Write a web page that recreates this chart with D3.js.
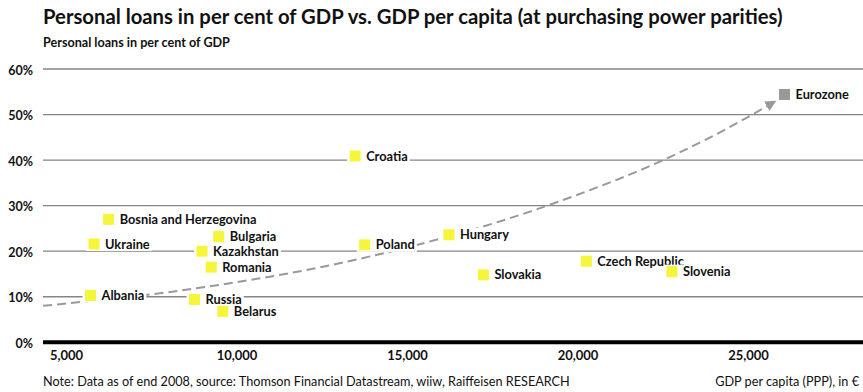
<!DOCTYPE html>
<html>
<head>
<meta charset="utf-8">
<script src="https://cdn.jsdelivr.net/npm/d3@7"></script>
<style>
  html, body { margin: 0; padding: 0; background: #fff; }
  svg { display: block; }
  text { font-family: Lato, "Open Sans", "Noto Sans", sans-serif; fill: #111; }
</style>
</head>
<body>
<svg id="chart" width="863" height="392"></svg>
<script>
// Personal loans (% of GDP) against GDP per capita at PPP, end 2008
const countries = ["Bosnia and Herzegovina", "Ukraine", "Bulgaria", "Kazakhstan", "Romania",
  "Albania", "Russia", "Belarus", "Croatia", "Poland", "Hungary", "Slovakia",
  "Czech Republic", "Slovenia", "Eurozone"];
const gdpPerCapita = [6250, 5820, 9480, 8990, 9260, 5720, 8770, 9600, 13480, 13760,
  16230, 17240, 20260, 22770, 26070];
const personalLoans = [27.0, 21.6, 23.2, 20.0, 16.5, 10.3, 9.4, 6.8, 40.9, 21.4,
  23.6, 14.8, 17.8, 15.5, 54.4];

// Dashed catch-up trend towards the eurozone level
const trendGdp = [4330, 6000, 8000, 10000, 12000, 14000, 16000, 18000, 20000, 22000, 24000, 25800];
const trendLoans = [8.0, 9.3, 11.0, 13.2, 15.8, 19.0, 22.8, 27.2, 32.4, 38.3, 45.4, 52.9];

const xTicks = [5000, 10000, 15000, 20000, 25000];
const yTicks = [0, 10, 20, 30, 40, 50, 60];

const titleText = "Personal loans in per cent of GDP vs. GDP per capita (at purchasing power parities)";
const yAxisTitle = "Personal loans in per cent of GDP";
const noteText = "Note: Data as of end 2008, source: Thomson Financial Datastream, wiiw, Raiffeisen RESEARCH";
const xAxisTitle = "GDP per capita (PPP), in \u20ac";

const W = 863, H = 392;
const plotLeft = 43, plotRight = 863;

const svg = d3.select("#chart");

const x = d3.scaleLinear().domain([5000, 25000]).range([66, 748]);
const y = d3.scaleLinear().domain([0, 60]).range([342.3, 69]);

// scale a text node's font size so its width matches a target
function fitWidth(sel, target) {
  const w = sel.node().getComputedTextLength();
  const fs = parseFloat(sel.attr("font-size"));
  sel.attr("font-size", (fs * target / w).toFixed(2));
}

// Title and axis title
const title = svg.append("text")
  .attr("x", plotLeft).attr("y", 24)
  .attr("font-size", 20).attr("font-weight", 700)
  .text(titleText);
fitWidth(title, 740);

const sub = svg.append("text")
  .attr("x", plotLeft).attr("y", 46.5)
  .attr("font-size", 11).attr("font-weight", 700)
  .text(yAxisTitle);
fitWidth(sub, 187);

// Horizontal grid lines
const grid = svg.append("g");
grid.selectAll("line")
  .data(yTicks.filter(d => d > 0))
  .join("line")
  .attr("x1", plotLeft).attr("x2", plotRight)
  .attr("y1", d => y(d)).attr("y2", d => y(d))
  .attr("stroke", "#858585").attr("stroke-width", 1.3);

// Y axis labels
const yAxis = d3.axisLeft(y).tickValues(yTicks).tickFormat(d => d + "%").tickSize(0).tickPadding(0);
const gy = svg.append("g").attr("transform", "translate(33,1)").call(yAxis);
gy.select(".domain").remove();
gy.selectAll("text")
  .attr("font-size", 12.5).attr("font-weight", 700)
  .attr("font-family", "Lato, sans-serif").attr("fill", "#111");

// Zero baseline
svg.append("line")
  .attr("x1", plotLeft).attr("x2", plotRight)
  .attr("y1", y(0)).attr("y2", y(0))
  .attr("stroke", "#000").attr("stroke-width", 4);

// X axis labels
const xAxis = d3.axisBottom(x).tickValues(xTicks).tickFormat(d3.format(",")).tickSize(0).tickPadding(0);
const gx = svg.append("g").attr("transform", "translate(0,351)").call(xAxis);
gx.select(".domain").remove();
gx.selectAll("text")
  .attr("font-size", 13).attr("font-weight", 700)
  .attr("font-family", "Lato, sans-serif").attr("fill", "#111");

// Trend line with arrow head
const defs = svg.append("defs");
defs.append("marker")
  .attr("id", "arrow")
  .attr("viewBox", "0 0 10 10")
  .attr("refX", 9).attr("refY", 5)
  .attr("markerWidth", 5.5).attr("markerHeight", 5.5)
  .attr("markerUnits", "strokeWidth")
  .attr("orient", "auto")
  .append("path")
  .attr("d", "M0,0 L10,5 L0,10 Z")
  .attr("fill", "#999");

const trend = trendGdp.map((g, i) => [g, trendLoans[i]]);
svg.append("path")
  .datum(trend)
  .attr("d", d3.line().x(d => x(d[0])).y(d => y(d[1])).curve(d3.curveMonotoneX))
  .attr("fill", "none")
  .attr("stroke", "#999")
  .attr("stroke-width", 2)
  .attr("stroke-dasharray", "9,5")
  .attr("marker-end", "url(#arrow)");

// Points with labels
const ms = 11;
const pts = countries.map((c, i) => ({ name: c, gdp: gdpPerCapita[i], loans: personalLoans[i] }));
const pg = svg.append("g").selectAll("g").data(pts).join("g")
  .attr("transform", d => `translate(${x(d.gdp)},${y(d.loans)})`);

const bg = pg.append("rect").attr("fill", "#fff");
pg.append("rect")
  .attr("x", -ms / 2).attr("y", -ms / 2)
  .attr("width", ms).attr("height", ms)
  .attr("fill", d => d.name === "Eurozone" ? "#999" : "#f5f53a");
const labels = pg.append("text")
  .attr("x", 11).attr("y", 0).attr("dy", "0.36em")
  .attr("font-size", 12.8).attr("font-weight", 700)
  .text(d => d.name);
labels.each(function () {
  const w = this.getComputedTextLength();
  d3.select(this.previousSibling.previousSibling)
    .attr("x", -ms / 2 - 2.5).attr("y", -7)
    .attr("width", ms / 2 + 2.5 + 11 + w + 2).attr("height", 14);
});

// Footer
const note = svg.append("text")
  .attr("x", plotLeft).attr("y", 386)
  .attr("font-size", 11).attr("font-weight", 400)
  .text(noteText);
fitWidth(note, 527);

svg.append("text")
  .attr("x", 859).attr("y", 386)
  .attr("text-anchor", "end")
  .attr("font-size", note.attr("font-size")).attr("font-weight", 400)
  .text(xAxisTitle);
</script>
</body>
</html>
